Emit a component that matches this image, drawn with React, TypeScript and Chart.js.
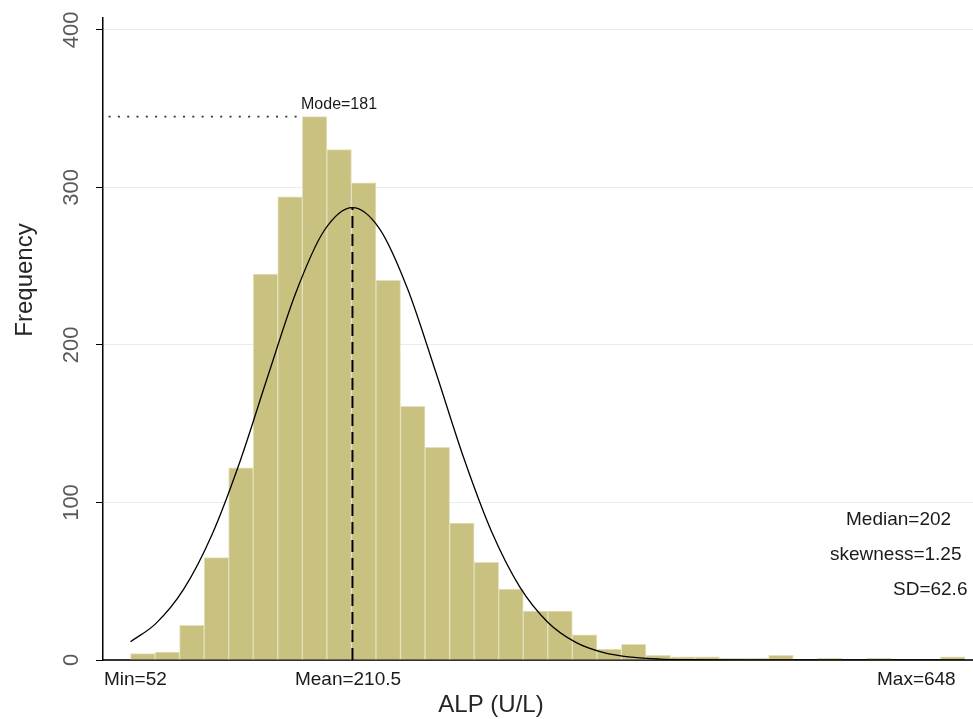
import { useEffect, useRef } from 'react';
import { Chart, registerables } from 'chart.js';

Chart.register(...registerables);

// ---- data ----
const binMin = 52;
const binMax = 648;
const frequencies = [4, 5, 22, 65, 122, 245, 294, 345, 324, 303, 241, 161, 135, 87, 62, 45, 31, 31, 16, 7, 10, 3, 2, 2, 1, 1, 3, 0, 1, 0, 1, 0, 0, 2];
const curveX = [52, 70, 90, 110, 130, 150, 170, 190, 210.5, 230, 250, 270, 290, 310, 330, 350, 370, 390, 410, 430, 450, 500, 550, 600, 648];
const curveY = [11.6, 23.1, 45.0, 79.2, 125.6, 180.0, 233.0, 272.2, 287.2, 273.6, 235.4, 182.8, 128.2, 81.2, 46.4, 24.0, 11.2, 4.7, 1.8, 0.6, 0.2, 0, 0, 0, 0];
const yTicks = [0, 100, 200, 300, 400];
const meanValue = 210.5;
const medianValue = 202;
const sdValue = 62.6;
const skewValue = 1.25;
const modeValue = 181;
const modeBin = 7; // index of the modal bin
const xTitle = 'ALP (U/L)';
const yTitle = 'Frequency';

const FONT = "'Liberation Sans', Arial, sans-serif";

export default function App() {
  const ref = useRef<HTMLCanvasElement>(null);

  useEffect(() => {
    if (!ref.current) return;
    const binW = (binMax - binMin) / frequencies.length;
    const bars = frequencies.map((f, i) => ({ x: binMin + binW * (i + 0.5), y: f }));
    const curve = curveX.map((x, i) => ({ x, y: curveY[i] }));
    const peak = Math.max(...curveY);
    const xMin = 32.35;
    const xMax = 653.7;
    const meanLine = [{ x: meanValue, y: 0 }, { x: meanValue, y: peak }];
    const modeLine = [{ x: xMin + 4, y: frequencies[modeBin] }, { x: binMin + binW * modeBin, y: frequencies[modeBin] }];

    const textPlugin = {
      id: 'texts',
      afterDraw(chart: any) {
        const { ctx, scales } = chart;
        const y = scales.y;
        ctx.save();
        // y tick labels (rotated)
        ctx.fillStyle = '#595959';
        ctx.font = `22px ${FONT}`;
        ctx.textAlign = 'center';
        ctx.textBaseline = 'middle';
        yTicks.forEach((v) => {
          const py = y.getPixelForValue(v);
          ctx.save();
          ctx.translate(72, py);
          ctx.rotate(-Math.PI / 2);
          ctx.fillText(String(v), 0, 0);
          ctx.restore();
        });
        // axis titles
        ctx.fillStyle = '#262626';
        ctx.font = `24px ${FONT}`;
        ctx.save();
        ctx.translate(25, 280);
        ctx.rotate(-Math.PI / 2);
        ctx.fillText(yTitle, 0, 0);
        ctx.restore();
        ctx.fillText(xTitle, 491, 705);

        // annotations
        ctx.fillStyle = '#1a1a1a';
        ctx.font = `19px ${FONT}`;
        ctx.textAlign = 'left';
        ctx.fillText(`Min=${binMin}`, 104, 680);
        ctx.fillText(`Max=${binMax}`, 877, 680);
        ctx.textAlign = 'center';
        ctx.fillText(`Mean=${meanValue}`, 348, 680);
        ctx.textAlign = 'left';
        ctx.fillText(`Median=${medianValue}`, 846, 520);
        ctx.fillText(`skewness=${skewValue}`, 830, 555);
        ctx.fillText(`SD=${sdValue}`, 893, 590);
        ctx.font = `16px ${FONT}`;
        ctx.fillText(`Mode=${modeValue}`, 301, 105);
        ctx.restore();
      },
    };

    const chart = new Chart(ref.current, {
      type: 'bar',
      data: {
        datasets: [
          {
            type: 'line',
            data: curve,
            borderColor: '#000',
            borderWidth: 1.3,
            pointRadius: 0,
            cubicInterpolationMode: 'monotone',
            order: 1,
          } as any,
          {
            type: 'line',
            data: meanLine,
            borderColor: '#000',
            borderWidth: 2,
            borderDash: [12, 6],
            pointRadius: 0,
            order: 0,
          } as any,
          {
            type: 'line',
            data: modeLine,
            borderColor: '#333',
            borderWidth: 1.6,
            borderDash: [2, 7.3],
            pointRadius: 0,
            order: 0,
          } as any,
          {
            type: 'bar',
            data: bars,
            backgroundColor: '#c9c180',
            borderColor: '#e4e0bd',
            borderWidth: 1,
            borderSkipped: 'bottom',
            barPercentage: 1,
            categoryPercentage: 1,
            order: 3,
          } as any,
        ],
      },
      options: {
        animation: false,
        responsive: true,
        maintainAspectRatio: false,
        layout: { padding: { top: 18, left: 0, right: 0, bottom: 0 } },
        plugins: { legend: { display: false }, tooltip: { enabled: false } },
        scales: {
          x: {
            type: 'linear',
            offset: false,
            bounds: 'data',
            min: xMin,
            max: xMax,
            grid: { display: false },
            ticks: { display: false },
            border: { display: true, color: '#333', width: 2 },
            afterFit(s: any) { s.height = 59; },
          },
          y: {
            type: 'linear',
            bounds: 'data',
            min: 0,
            max: 407.6,
            ticks: { display: false },
            afterBuildTicks(s: any) { s.ticks = yTicks.map((v) => ({ value: v })); },
            grid: { color: '#e9ecee', tickColor: '#000', tickLength: 7, drawTicks: true },
            border: { display: true, color: '#000', width: 1.5 },
            afterFit(s: any) { s.width = 103; },
          },
        },
      } as any,
      plugins: [textPlugin],
    });
    return () => chart.destroy();
  }, []);

  return (
    <div style={{ position: 'fixed', left: 0, top: 0, width: 973, height: 719, background: '#fff' }}>
      <canvas ref={ref} />
    </div>
  );
}
